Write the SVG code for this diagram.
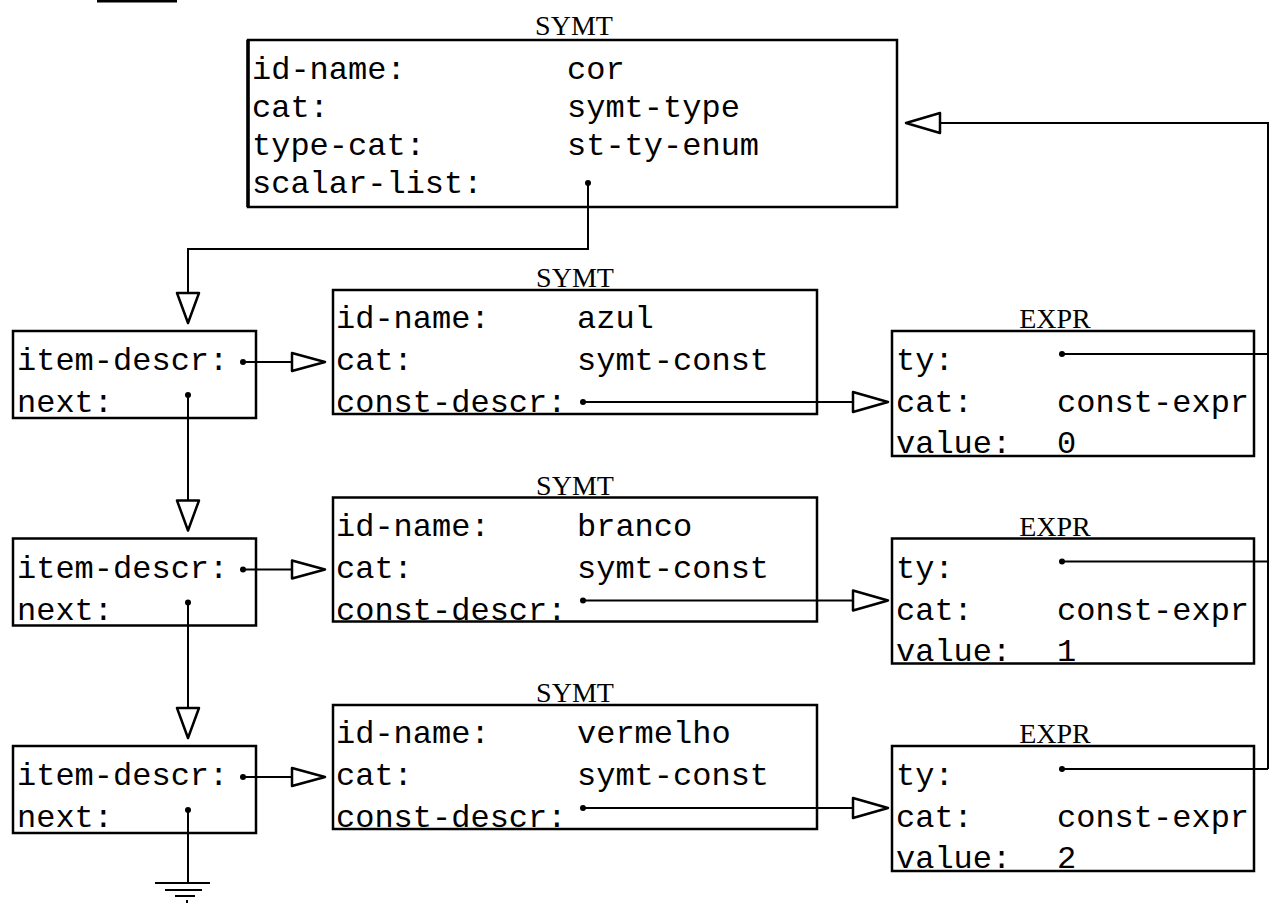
<svg xmlns="http://www.w3.org/2000/svg" width="1270" height="904" viewBox="0 0 1270 904">
<style>
.t{font-family:"Liberation Mono","DejaVu Sans Mono",monospace;font-size:32px;fill:#000}
.h{font-family:"Liberation Serif","DejaVu Serif",serif;font-size:28px;fill:#000;text-anchor:middle}
.box{fill:none;stroke:#000;stroke-width:2.5}
.ln{fill:none;stroke:#000;stroke-width:2}
.arr{fill:#fff;stroke:#000;stroke-width:2.5;stroke-linejoin:round}
.dot{fill:#000}
</style>
<rect width="1270" height="904" fill="#fff"/>
<line x1="97" y1="1" x2="177" y2="1" stroke="#000" stroke-width="3"/>

<!-- top SYMT -->
<g id="symt-cor">
 <text class="h" x="574" y="35">SYMT</text>
 <rect class="box" x="248" y="40" width="649" height="167"/>
 <line x1="248" y1="40" x2="248" y2="207" stroke="#000" stroke-width="3.5"/>
 <text class="t" x="252" y="79">id-name:</text><text class="t" x="567" y="79">cor</text>
 <text class="t" x="252" y="117">cat:</text><text class="t" x="567" y="117">symt-type</text>
 <text class="t" x="252" y="155">type-cat:</text><text class="t" x="567" y="155">st-ty-enum</text>
 <text class="t" x="252" y="193">scalar-list:</text>
</g>

<!-- item-descr boxes -->
<g id="item1">
 <rect class="box" x="13" y="331" width="243" height="87"/>
 <text class="t" x="17" y="370">item-descr:</text>
 <text class="t" x="17" y="412">next:</text>
</g>
<g id="item2" transform="translate(0,207.5)">
 <rect class="box" x="13" y="331" width="243" height="87"/>
 <text class="t" x="17" y="370">item-descr:</text>
 <text class="t" x="17" y="412">next:</text>
</g>
<g id="item3" transform="translate(0,415)">
 <rect class="box" x="13" y="331" width="243" height="87"/>
 <text class="t" x="17" y="370">item-descr:</text>
 <text class="t" x="17" y="412">next:</text>
</g>

<!-- SYMT constants -->
<g id="symt-azul">
 <text class="h" x="575" y="287">SYMT</text>
 <rect class="box" x="333" y="290" width="484" height="124"/>
 <text class="t" x="336" y="328">id-name:</text><text class="t" x="577" y="328">azul</text>
 <text class="t" x="336" y="370">cat:</text><text class="t" x="577" y="370">symt-const</text>
 <text class="t" x="336" y="412">const-descr:</text>
</g>
<g id="symt-branco" transform="translate(0,207.5)">
 <text class="h" x="575" y="287">SYMT</text>
 <rect class="box" x="333" y="290" width="484" height="124"/>
 <text class="t" x="336" y="328">id-name:</text><text class="t" x="577" y="328">branco</text>
 <text class="t" x="336" y="370">cat:</text><text class="t" x="577" y="370">symt-const</text>
 <text class="t" x="336" y="412">const-descr:</text>
</g>
<g id="symt-vermelho" transform="translate(0,415)">
 <text class="h" x="575" y="287">SYMT</text>
 <rect class="box" x="333" y="290" width="484" height="124"/>
 <text class="t" x="336" y="328">id-name:</text><text class="t" x="577" y="328">vermelho</text>
 <text class="t" x="336" y="370">cat:</text><text class="t" x="577" y="370">symt-const</text>
 <text class="t" x="336" y="412">const-descr:</text>
</g>

<!-- EXPR boxes -->
<g id="expr0">
 <text class="h" x="1055" y="328">EXPR</text>
 <rect class="box" x="892" y="331" width="362" height="125"/>
 <text class="t" x="896" y="370">ty:</text>
 <text class="t" x="896" y="412">cat:</text><text class="t" x="1057" y="412">const-expr</text>
 <text class="t" x="896" y="453">value:</text><text class="t" x="1057" y="453">0</text>
</g>
<g id="expr1" transform="translate(0,207.5)">
 <text class="h" x="1055" y="328">EXPR</text>
 <rect class="box" x="892" y="331" width="362" height="125"/>
 <text class="t" x="896" y="370">ty:</text>
 <text class="t" x="896" y="412">cat:</text><text class="t" x="1057" y="412">const-expr</text>
 <text class="t" x="896" y="453">value:</text><text class="t" x="1057" y="453">1</text>
</g>
<g id="expr2" transform="translate(0,415)">
 <text class="h" x="1055" y="328">EXPR</text>
 <rect class="box" x="892" y="331" width="362" height="125"/>
 <text class="t" x="896" y="370">ty:</text>
 <text class="t" x="896" y="412">cat:</text><text class="t" x="1057" y="412">const-expr</text>
 <text class="t" x="896" y="453">value:</text><text class="t" x="1057" y="453">2</text>
</g>

<!-- connectors -->
<g id="connectors">
 <!-- scalar-list -> item1 -->
 <circle class="dot" cx="588" cy="183" r="3"/>
 <path class="ln" d="M588,183 V249 H188 V293"/>
 <path class="arr" d="M177,293 L199,293 L188,323 Z"/>

 <!-- next chain -->
 <circle class="dot" cx="188" cy="395" r="3"/>
 <path class="ln" d="M188,395 V500.5"/>
 <path class="arr" d="M177,500.5 L199,500.5 L188,530.5 Z"/>
 <circle class="dot" cx="188" cy="602.5" r="3"/>
 <path class="ln" d="M188,602.5 V708"/>
 <path class="arr" d="M177,708 L199,708 L188,738 Z"/>
 <circle class="dot" cx="188" cy="810" r="3"/>
 <path class="ln" d="M188,810 V883"/>
 <path class="ln" d="M155,883 H210 M165,890 H202 M175,896 H195 M187,900 V903" stroke-width="2.5"/>

 <!-- item-descr -> SYMT -->
 <circle class="dot" cx="243" cy="362" r="3"/>
 <path class="ln" d="M243,362 H292"/>
 <path class="arr" d="M292,353 L325,362 L292,371 Z"/>
 <circle class="dot" cx="243" cy="569.5" r="3"/>
 <path class="ln" d="M243,569.5 H292"/>
 <path class="arr" d="M292,560.5 L325,569.5 L292,578.5 Z"/>
 <circle class="dot" cx="243" cy="777" r="3"/>
 <path class="ln" d="M243,777 H292"/>
 <path class="arr" d="M292,768 L325,777 L292,786 Z"/>

 <!-- const-descr -> EXPR -->
 <circle class="dot" cx="583" cy="402" r="3"/>
 <path class="ln" d="M583,402 H853"/>
 <path class="arr" d="M853,392 L888,402 L853,412 Z"/>
 <circle class="dot" cx="583" cy="600.5" r="3"/>
 <path class="ln" d="M583,600.5 H853"/>
 <path class="arr" d="M853,590.5 L888,600.5 L853,610.5 Z"/>
 <circle class="dot" cx="583" cy="808" r="3"/>
 <path class="ln" d="M583,808 H853"/>
 <path class="arr" d="M853,798 L888,808 L853,818 Z"/>

 <!-- ty -> top SYMT -->
 <circle class="dot" cx="1062" cy="354" r="3"/>
 <path class="ln" d="M1062,354 H1268"/>
 <circle class="dot" cx="1062" cy="561.5" r="3"/>
 <path class="ln" d="M1062,561.5 H1268"/>
 <circle class="dot" cx="1062" cy="769" r="3"/>
 <path class="ln" d="M1062,769 H1268"/>
 <path class="ln" d="M1268,769 V123 H940"/>
 <path class="arr" d="M940,113 L906,123 L940,133 Z"/>
</g>
</svg>
